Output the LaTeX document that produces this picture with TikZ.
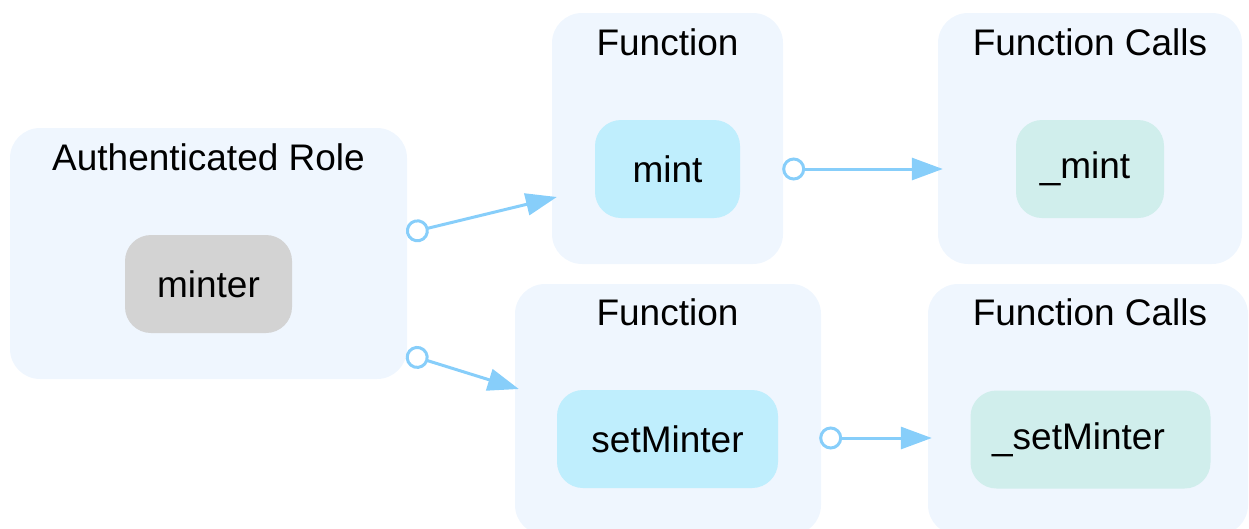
\documentclass[tikz,border=0pt]{standalone}
\usepackage{fontspec}
\setmainfont{Liberation Sans}
\usetikzlibrary{arrows.meta}
\definecolor{clusterbg}{HTML}{EFF6FE}
\definecolor{rolefill}{HTML}{D3D3D3}
\definecolor{funcfill}{HTML}{BFEEFD}
\definecolor{callfill}{HTML}{D0EEEC}
\definecolor{edgecol}{HTML}{87CEFA}
\tikzset{
  cluster/.style={fill=clusterbg, draw=none, rounded corners=30pt, inner sep=0pt},
  title/.style={font=\fontsize{37}{44}\selectfont, inner sep=0pt, anchor=center},
  item/.style={draw=none, rounded corners=26pt, inner sep=0pt, minimum height=98pt,
    font=\fontsize{37}{44}\selectfont},
  edge/.style={draw=edgecol, line width=3pt,
    {Circle[open, length=23pt, width=23pt, line width=3pt]}-{Triangle[length=31pt, width=22pt]}}
}
\begin{document}
\begin{tikzpicture}[x=1pt, y=-1pt]
\useasboundingbox (0,0) rectangle (1249,528);

% clusters
\node[cluster, minimum width=397pt, minimum height=251pt] (A)  at (208.5,253.5) {};
\node[cluster, minimum width=231pt, minimum height=251pt] (F1) at (667.5,138.5) {};
\node[cluster, minimum width=304pt, minimum height=251pt] (C1) at (1090,138.5) {};
\node[cluster, minimum width=306pt, minimum height=251pt] (F2) at (668,409.5) {};
\node[cluster, minimum width=320pt, minimum height=251pt] (C2) at (1088,409.5) {};

% cluster titles
\node[title] (tA)  at (208.5,157) {Authenticated Role};
\node[title] (tF1) at (667.5,42) {Function};
\node[title] (tC1) at (1090,42) {Function Calls};
\node[title] (tF2) at (667.5,312) {Function};
\node[title] (tC2) at (1090,312) {Function Calls};

% items
\node[item, fill=rolefill, minimum width=167pt] (minter) at (208.5,284) {minter};
\node[item, fill=funcfill, minimum width=145pt] (mint) at (667.5,169) {mint};
\node[item, fill=callfill, minimum width=148pt] (cmint) at (1090,169) {\_mint\hspace*{10pt}};
\node[item, fill=funcfill, minimum width=221pt] (setMinter) at (667.5,439) {setMinter};
\node[item, fill=callfill, minimum width=240pt] (csetMinter) at (1090.5,439.5) {\_setMinter\hspace*{24pt}};

% connectors between clusters
\draw[edge] ([shift={(-1,-20)}]A.east) -- ([shift={(5,58.5)}]F1.west);
\draw[edge] ([shift={(-1,100.5)}]A.east) -- ([shift={(4,-20.5)}]F2.west);
\draw[edge] ([shift={(-1,30.5)}]F1.east) -- ([shift={(5,30.5)}]C1.west);
\draw[edge] ([shift={(-2,28.5)}]F2.east) -- ([shift={(4,28.5)}]C2.west);
\end{tikzpicture}
\end{document}
